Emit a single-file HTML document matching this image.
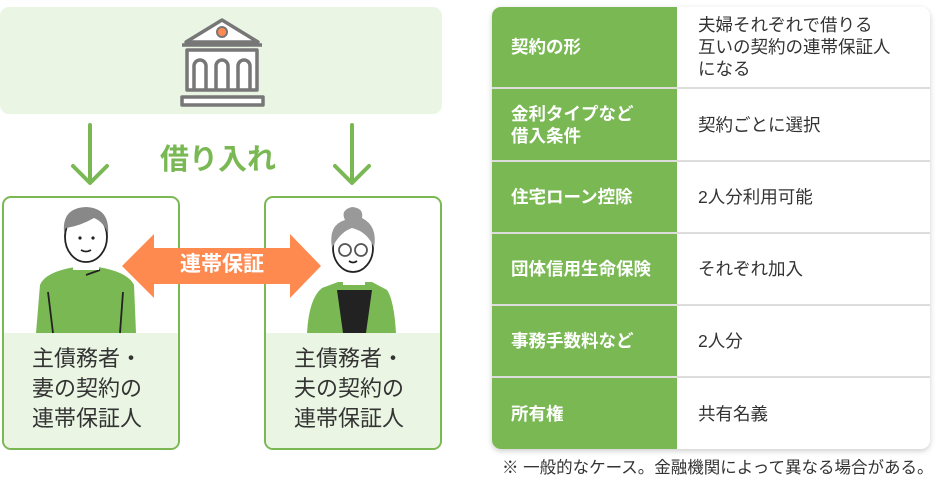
<!DOCTYPE html>
<html><head><meta charset="utf-8"><style>
*{margin:0;padding:0;box-sizing:border-box}
body{width:940px;height:481px;background:#fff;position:relative;overflow:hidden;font-family:"Liberation Sans","Noto Sans CJK JP",sans-serif;color:#333}
.abs{position:absolute}
.pbox{position:absolute;top:196px;width:178px;height:254px;border:2.5px solid #7ab854;border-radius:9px;overflow:hidden;background:#fff}
.pbox .low{position:absolute;left:0;right:0;top:135px;bottom:0;background:#eaf6e3}
.pbox .txt{position:absolute;left:28px;top:146px;font-size:22px;line-height:30px;color:#333;white-space:nowrap}
table{position:absolute;left:492px;top:7px;width:438px;height:442px;border-collapse:collapse;border-radius:9px;overflow:hidden;box-shadow:0 2px 6px rgba(0,0,0,.2);background:#fff}
td{border-bottom:2px solid #ddd;vertical-align:middle}
tr:last-child td{border-bottom:none}
td.h{width:185px;background:#7ab854;color:#fff;font-weight:bold;font-size:17.5px;line-height:22px;padding-left:19px}
td.v{font-size:17.5px;line-height:22px;padding-left:21px;color:#333}
</style></head><body>
<div class="abs" style="left:0;top:7px;width:442px;height:107px;background:#eaf6e3;border-radius:9px"></div>
<svg class="abs" style="left:0;top:0" width="450" height="200">
 <g fill="none" stroke="#777" stroke-width="3.5" stroke-linejoin="round">
  <path d="M186 42 L222 20 L258 42 Z" fill="#fff"/>
  <line x1="182" y1="45" x2="262" y2="45"/>
  <rect x="187" y="50" width="70" height="40" fill="#fff"/>
  <path d="M194 90 V66 a6 6 0 0 1 12 0 V90 M216 90 V66 a6 6 0 0 1 12 0 V90 M238 90 V66 a6 6 0 0 1 12 0 V90"/>
  <rect x="182" y="97" width="81" height="8" fill="#fff"/>
 </g>
 <circle cx="222" cy="32" r="5" fill="#ff8a50" stroke="#777" stroke-width="2"/>
 <g stroke="#7ab854" stroke-width="4" fill="none" stroke-linecap="round" stroke-linejoin="round">
  <line x1="90" y1="125" x2="90" y2="182"/><path d="M73 166 L90 183 L107 166"/>
  <line x1="352" y1="125" x2="352" y2="182"/><path d="M335 166 L352 183 L369 166"/>
 </g>
</svg>
<div class="abs" style="left:160px;top:142px;font-size:29px;font-weight:bold;color:#7ab854;line-height:36px;white-space:nowrap">借り入れ</div>

<div class="pbox" style="left:2px"><div class="low"></div><div class="txt">主債務者・<br>妻の契約の<br>連帯保証人</div></div>
<div class="pbox" style="left:264px"><div class="low"></div><div class="txt">主債務者・<br>夫の契約の<br>連帯保証人</div></div>

<svg class="abs" style="left:0;top:190px" width="450" height="150">
 <g stroke="#222" stroke-width="1.8">
  <path d="M36 143 L40 95 Q45 82 75 77 L98 77 Q128 82 134 95 L136 143 Z" fill="#7ab854" stroke="none"/>
  <path d="M48 102 L53 143 M123 102 L120 143 M86 85 L100 80" fill="none"/>
  <rect x="73" y="60" width="26" height="20" fill="#fff" stroke="none"/>
  <ellipse cx="86" cy="47" rx="21" ry="25" fill="#fff"/>
  <path d="M64 42 Q62 18 86 17 Q110 18 108 44 Q104 32 94 28 Q80 36 66 38 Z" fill="#888" stroke="none"/>
  <circle cx="80" cy="48" r="1.6" fill="#222" stroke="none"/><circle cx="93" cy="48" r="1.6" fill="#222" stroke="none"/>
  <path d="M81 60 Q86 63 91 60" fill="none"/>
 </g>
 <g stroke="#222" stroke-width="1.8">
  <path d="M307 143 Q309 108 322 98 L338 92 L372 92 L387 100 Q394 110 396 143 Z" fill="#7ab854" stroke="none"/>
  <path d="M337 100 L343 143 L366 143 L372 100 Z" fill="#222" stroke="none"/>
  <rect x="343" y="70" width="22" height="25" fill="#fff" stroke="none"/>
  <ellipse cx="353" cy="58" rx="20" ry="24" fill="#fff"/>
  <path d="M332 58 Q328 35 345 30 Q340 20 352 17 Q364 18 362 28 Q378 36 374 58 Q368 42 352 38 Q340 42 332 58 Z" fill="#999" stroke="none"/>
  <circle cx="345" cy="60" r="6" fill="none" stroke="#555"/><circle cx="361" cy="60" r="6" fill="none" stroke="#555"/>
  <path d="M349 71 Q353 74 357 71" fill="none"/>
 </g>
 <path d="M122 76 L154 44 L154 58 L290 58 L290 44 L321 76 L290 108 L290 94 L154 94 L154 108 Z" fill="#ff8a50"/>
</svg>
<div class="abs" style="left:170px;top:251px;width:104px;text-align:center;font-size:21px;font-weight:bold;color:#fff;line-height:28px">連帯保証</div>

<table>
<tr style="height:81px"><td class="h">契約の形</td><td class="v">夫婦それぞれで借りる<br>互いの契約の連帯保証人<br>になる</td></tr>
<tr style="height:73px"><td class="h">金利タイプなど<br>借入条件</td><td class="v">契約ごとに選択</td></tr>
<tr style="height:72px"><td class="h">住宅ローン控除</td><td class="v">2人分利用可能</td></tr>
<tr style="height:72px"><td class="h">団体信用生命保険</td><td class="v">それぞれ加入</td></tr>
<tr style="height:72px"><td class="h">事務手数料など</td><td class="v">2人分</td></tr>
<tr style="height:72px"><td class="h">所有権</td><td class="v">共有名義</td></tr>
</table>
<div class="abs" style="left:502px;top:457px;font-size:16.5px;line-height:22px;color:#333;white-space:nowrap">※ 一般的なケース。金融機関によって異なる場合がある。</div>
</body></html>
